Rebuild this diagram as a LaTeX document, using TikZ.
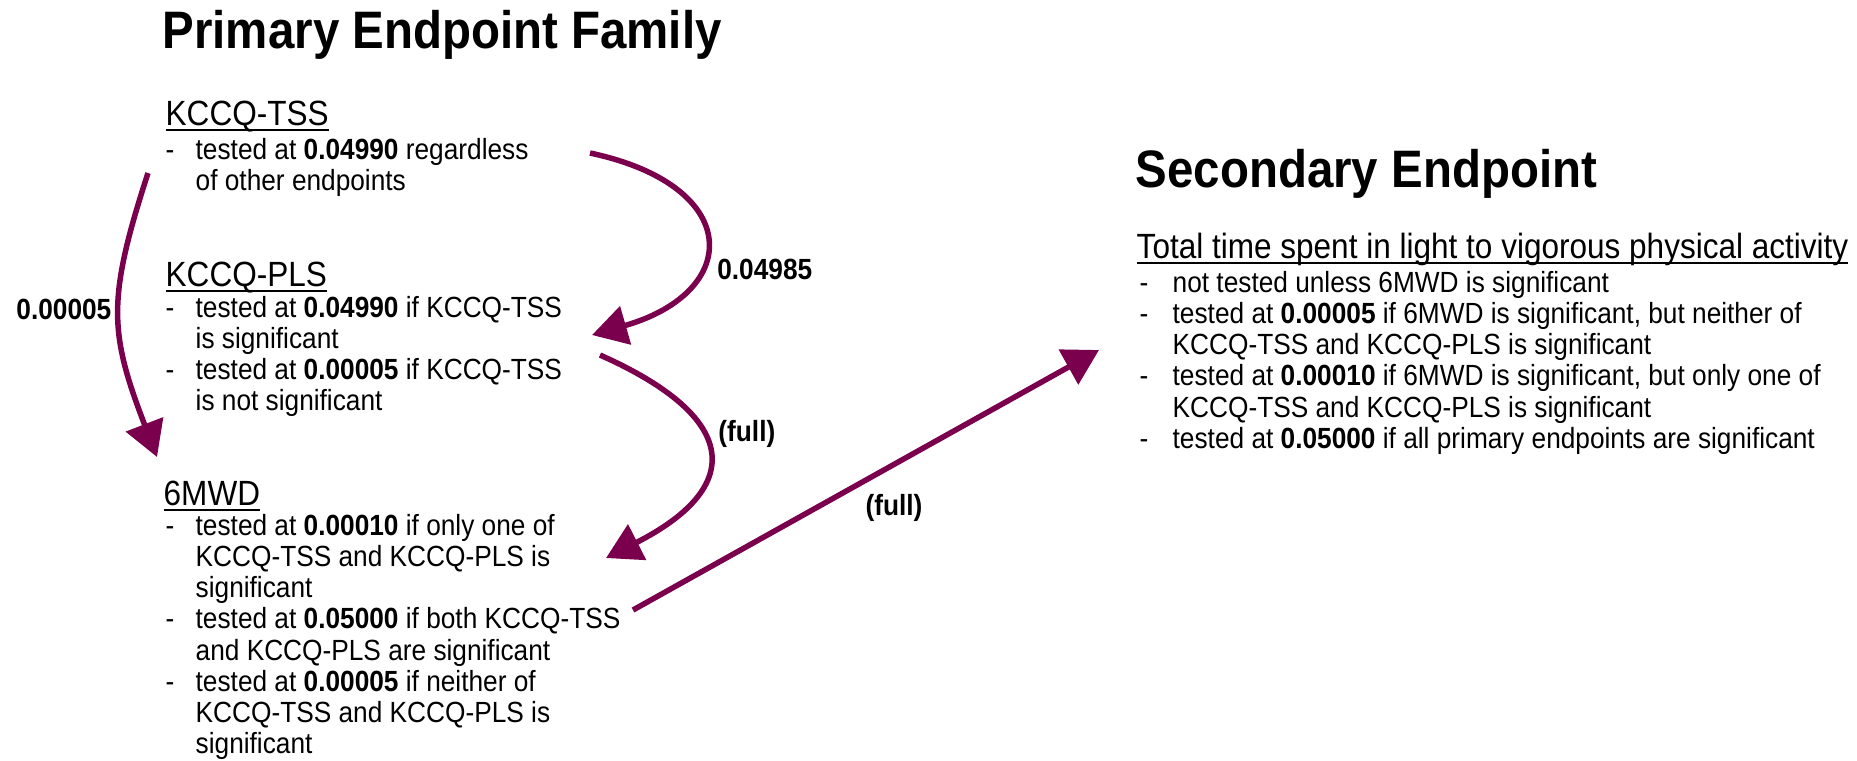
\documentclass[tikz,border=0pt]{standalone}
\usepackage{fontspec}
\setmainfont{Liberation Sans}[FakeStretch=0.9]
\usetikzlibrary{arrows.meta}

\definecolor{plum}{RGB}{122,0,78}
\newcommand{\bodysize}{\fontsize{8.3pt}{8.9pt}\selectfont}
\newcommand{\dashlist}[2][3.3mm]{\begin{tabular}[t]{@{}p{#1}@{}l@{}}#2\end{tabular}}
\newcommand{\headline}[1]{\underline{\smash{#1}}}

\tikzset{
  maintitle/.style={font=\bfseries\fontsize{15pt}{17pt}\selectfont},
  headfont/.style={font=\fontsize{9.97pt}{11pt}\selectfont},
  items/.style={font=\bodysize},
  lbl/.style={font=\bfseries\bodysize, inner sep=0pt},
  flow/.style={draw=plum, line width=0.55mm, -{Triangle[length=3.5mm,width=3.9mm]}}
}

\begin{document}
\begin{tikzpicture}[x=0.1mm,y=0.1mm]
  \useasboundingbox (0,0) rectangle (1857,-760);

  \begin{scope}[every node/.style={anchor=base west, inner sep=0pt}]
    \node[maintitle] (prim) at (162,-48) {Primary Endpoint Family};
    \node[maintitle] (sec) at (1135,-187) {Secondary Endpoint};

    \node[headfont] (tss) at (165,-125) {\headline{KCCQ-TSS}};
    \node[items] (tss-list) at (165,-159) {\dashlist[3.0mm]{%
      - & tested at \textbf{0.04990} regardless\\
        & of other endpoints}};

    \node[headfont] (pls) at (165,-286) {\headline{KCCQ-PLS}};
    \node[items] (pls-list) at (165,-317) {\dashlist[3.0mm]{%
      - & tested at \textbf{0.04990} if KCCQ-TSS\\
        & is significant\\
      - & tested at \textbf{0.00005} if KCCQ-TSS\\
        & is not significant}};

    \node[headfont] (mwd) at (163,-505) {\headline{6MWD}};
    \node[items] (mwd-list) at (165,-535) {\dashlist[3.0mm]{%
      - & tested at \textbf{0.00010} if only one of\\
        & KCCQ-TSS and KCCQ-PLS is\\
        & significant\\
      - & tested at \textbf{0.05000} if both KCCQ-TSS\\
        & and KCCQ-PLS are significant\\
      - & tested at \textbf{0.00005} if neither of\\
        & KCCQ-TSS and KCCQ-PLS is\\
        & significant}};

    \node[headfont] (act) at (1136,-258) {\headline{Total time spent in light to vigorous physical activity}};
    \node[items] (act-list) at (1139,-292) {\dashlist{%
      - & not tested unless 6MWD is significant\\
      - & tested at \textbf{0.00005} if 6MWD is significant, but neither of\\
        & KCCQ-TSS and KCCQ-PLS is significant\\
      - & tested at \textbf{0.00010} if 6MWD is significant, but only one of\\
        & KCCQ-TSS and KCCQ-PLS is significant\\
      - & tested at \textbf{0.05000} if all primary endpoints are significant}};
  \end{scope}

  % arrow ends
  \coordinate (tss-l) at (148,-173);
  \coordinate (mwd-t) at (157,-457);
  \coordinate (tss-r) at (590,-153);
  \coordinate (pls-in) at (592,-335);
  \coordinate (pls-r) at (600,-355);
  \coordinate (mwd-in) at (606,-558);
  \coordinate (mwd-r) at (633,-610);
  \coordinate (act-in) at (1099,-350);

  \path (tss-l) edge[flow, out=-108, in=111, looseness=1.2]
        node[lbl, anchor=east, xshift=-0.5mm, yshift=0.6mm] {0.00005} (mwd-t);
  \path (tss-r) edge[flow, out=-12, in=16, looseness=2.2]
        node[lbl, pos=0.62, anchor=west, xshift=1.6mm, yshift=-0.3mm] {0.04985} (pls-in);
  \path (pls-r) edge[flow, out=-24, in=27, looseness=1.95]
        node[lbl, pos=0.42, anchor=west, xshift=1.1mm, yshift=0.4mm] {(full)} (mwd-in);
  \path (mwd-r) edge[flow]
        node[lbl, pos=0.56, yshift=-4.4mm] {(full)} (act-in);

\end{tikzpicture}
\end{document}
